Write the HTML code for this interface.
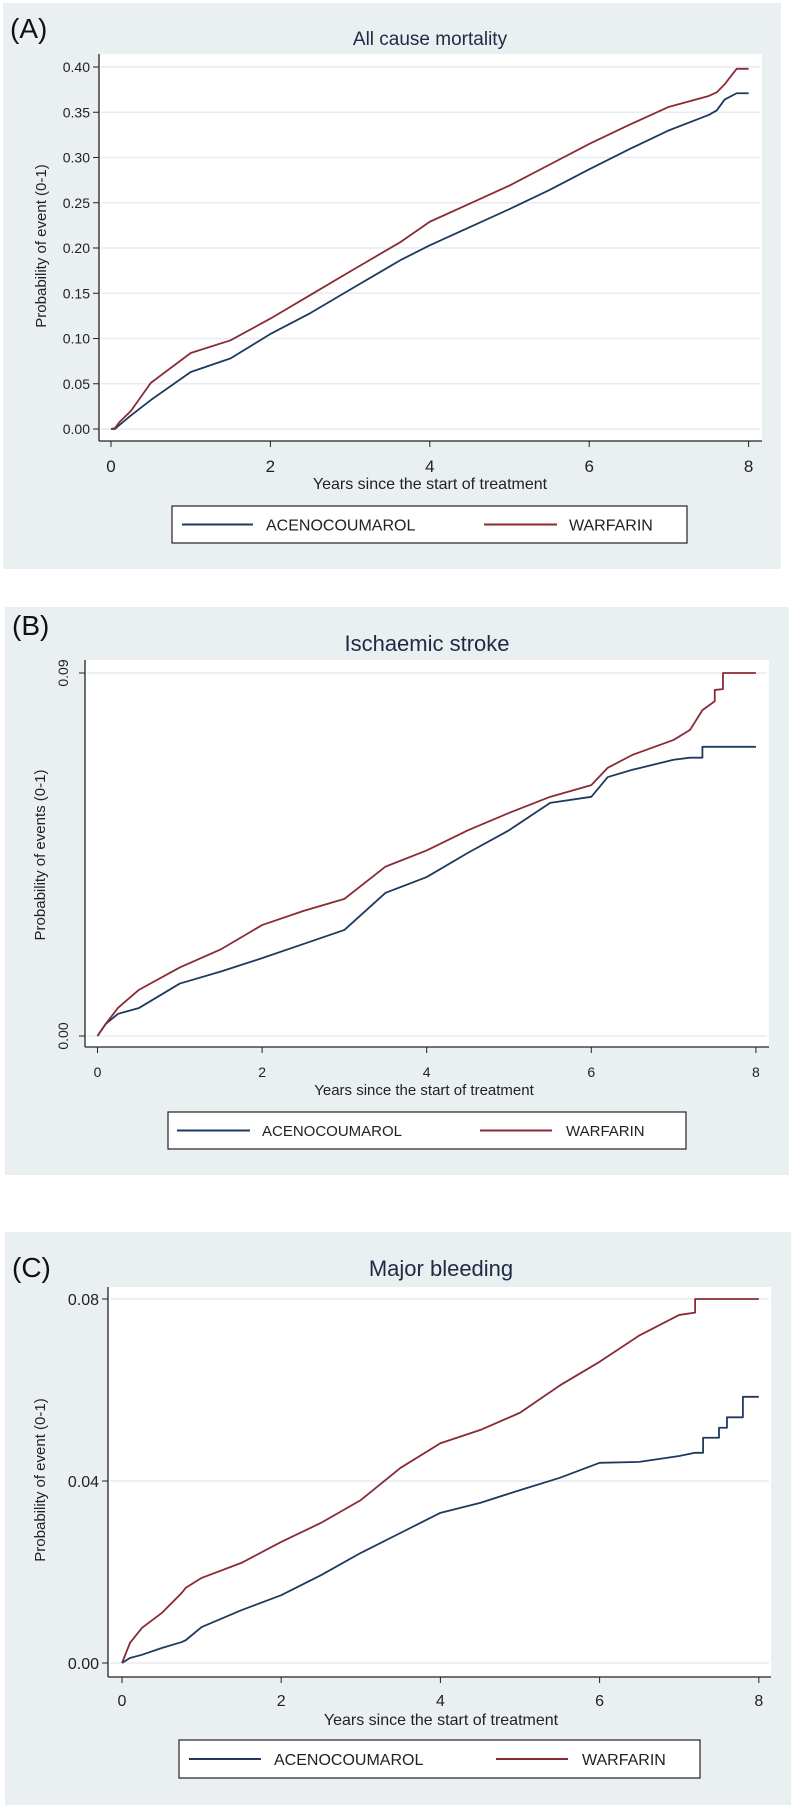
<!DOCTYPE html>
<html><head><meta charset="utf-8">
<style>
html,body{margin:0;padding:0;background:#fff;}
svg{display:block;font-family:"Liberation Sans",Arial,sans-serif;}
</style></head>
<body>
<svg id="fig" width="802" height="1811" viewBox="0 0 802 1811"></svg>
<script>
// ---------- data ----------
const aTimes = [0,0.05,0.1,0.25,0.5,1,1.5,2,2.5,3,3.64,4,4.5,5,5.5,6,6.5,7,7.5,7.6,7.7,7.85,8];
const aAcen  = [0,0,0.004,0.015,0.032,0.063,0.078,0.105,0.128,0.154,0.187,0.203,0.223,0.243,0.264,0.287,0.309,0.330,0.347,0.352,0.364,0.371,0.371];
const aWarf  = [0,0.001,0.007,0.02,0.051,0.084,0.098,0.122,0.148,0.174,0.207,0.229,0.249,0.269,0.292,0.315,0.336,0.356,0.368,0.372,0.381,0.398,0.398];

const bTimes = [0,0.1,0.25,0.5,1,1.5,2,2.5,3,3.5,4,4.5,5,5.5,6,6.2,6.5,7,7.2,7.35,7.35,7.5,7.5,7.6,7.6,8];
const bAcen  = [0,0.003,0.0055,0.0069,0.013,0.016,0.0193,0.0228,0.0263,0.0355,0.0394,0.0454,0.051,0.0578,0.0593,0.0642,0.066,0.0685,0.069,0.069,0.0717,0.0717,0.0717,0.0717,0.0717,0.0717];
const bWarf  = [0,0.003,0.007,0.0114,0.017,0.0215,0.0275,0.031,0.034,0.042,0.046,0.051,0.0553,0.0593,0.0622,0.0665,0.0697,0.0734,0.0759,0.0808,0.0808,0.083,0.0858,0.086,0.09,0.09];

const cTimes = [0,0.1,0.25,0.5,0.75,0.8,1,1.5,2,2.5,3,3.5,4,4.5,5,5.5,6,6.5,7,7.2,7.2,7.3,7.3,7.5,7.5,7.6,7.6,7.8,7.8,8];
const cAcen  = [0,0.0011,0.0018,0.0033,0.0046,0.005,0.0079,0.0116,0.0149,0.0193,0.0242,0.0286,0.033,0.0352,0.038,0.0407,0.044,0.0442,0.0455,0.0462,0.0462,0.0462,0.0495,0.0495,0.0517,0.0517,0.054,0.054,0.0585,0.0585];
const cWarf  = [0,0.0044,0.0077,0.011,0.0154,0.0165,0.0187,0.022,0.0266,0.0308,0.0358,0.0429,0.0483,0.0512,0.055,0.061,0.0662,0.072,0.0765,0.077,0.08,0.08,0.08,0.08,0.08,0.08,0.08,0.08,0.08,0.08];

const xTicks = [0,2,4,6,8];
const aYTicks = [0,0.05,0.10,0.15,0.20,0.25,0.30,0.35,0.40];
const bYTicks = [0,0.09];
const cYTicks = [0,0.04,0.08];

// ---------- helpers ----------
const NS="http://www.w3.org/2000/svg";
const svg=document.getElementById('fig');
function el(tag,attrs,parent){const e=document.createElementNS(NS,tag);for(const k in attrs)e.setAttribute(k,attrs[k]);(parent||svg).appendChild(e);return e;}
function txt(s,attrs,parent){const e=el('text',attrs,parent);e.textContent=s;return e;}
const BLUE="#1d3a5e", RED="#8a2a36", BG="#eaeff2", INK="#1f2a44";

function panel(cfg){
  const g=el('g',{});
  
  
  const bg=el('rect',{x:cfg.bg[0],y:cfg.bg[1],width:cfg.bg[2]-cfg.bg[0],height:cfg.bg[3]-cfg.bg[1],fill:BG},g);
  
  
  const pl=txt(cfg.letter,{x:cfg.bg[0]+7,y:cfg.letterY,'font-size':28,fill:'#111'},g);
  
  
  const ti=txt(cfg.title,{x:cfg.titleX,y:cfg.titleY,'font-size':cfg.titleSize,fill:INK,'text-anchor':'middle'},g);
  
  
  const p=cfg.plot;
  const area=el('rect',{x:p[0],y:p[1],width:p[2]-p[0],height:p[3]-p[1],fill:'#fff'},g);
  
  
  const X=t=>cfg.x0+t*cfg.xs;
  const Y=v=>cfg.y0-(v/cfg.ymax)*(cfg.y0-cfg.yTop);
  cfg.yTicks.forEach(v=>{
    const gl=el('line',{x1:p[0]+2,x2:p[2]-2,y1:Y(v),y2:Y(v),stroke:'#e6ecef','stroke-width':1.5},g);
    
    
    el('line',{x1:p[0]-6,x2:p[0],y1:Y(v),y2:Y(v),stroke:'#222','stroke-width':1},g);
    let lab;
    if(cfg.rotY){
      lab=txt(v.toFixed(2),{x:0,y:0,'font-size':cfg.yFont,fill:'#222','text-anchor':'middle',transform:`translate(${p[0]-17},${Y(v)}) rotate(-90)`},g);
    } else {
      lab=txt(v.toFixed(2),{x:p[0]-9,y:Y(v)+cfg.yFont*0.36,'font-size':cfg.yFont,fill:'#222','text-anchor':'end'},g);
    }
    
    
  });
  el('line',{x1:p[0],x2:p[0],y1:p[1],y2:p[3],stroke:'#222','stroke-width':1.3},g);
  el('line',{x1:p[0],x2:p[2],y1:p[3],y2:p[3],stroke:'#222','stroke-width':1.3},g);
  xTicks.forEach(t=>{
    el('line',{x1:X(t),x2:X(t),y1:p[3],y2:p[3]+6,stroke:'#222','stroke-width':1},g);
    const l=txt(String(t),{x:X(t),y:cfg.xLabY,'font-size':cfg.xFont,fill:'#222','text-anchor':'middle'},g);
    
    
  });
  const xt=txt(cfg.xTitle,{x:cfg.xTitleX,y:cfg.xTitleY,'font-size':cfg.xTitleSize,fill:'#222','text-anchor':'middle'},g);
  
  
  const yt=txt(cfg.yTitle,{x:0,y:0,'font-size':cfg.yTitleSize,fill:'#222','text-anchor':'middle',transform:`translate(${cfg.yTitleX},${cfg.yTitleY}) rotate(-90)`},g);
  
  
  function path(times,vals,color,name){
    let d=`M${X(times[0])},${Y(vals[0])}`;
    for(let i=1;i<times.length;i++){ d+=` L${X(times[i])},${Y(vals[i])}`; }
    const e=el('path',{d:d,fill:'none',stroke:color,'stroke-width':1.8,'stroke-linejoin':'round'},g);
    
    
  }
  path(cfg.times,cfg.acen,BLUE,'acenocoumarol-line');
  path(cfg.times,cfg.warf,RED,'warfarin-line');
  const L=cfg.leg;
  const lg=el('g',{},g);
  
  
  el('rect',{x:L.x0,y:L.y0,width:L.x1-L.x0,height:L.y1-L.y0,fill:'#fff',stroke:'#222','stroke-width':1.2},lg);
  const my=(L.y0+L.y1)/2;
  const e1=el('line',{x1:L.l1[0],x2:L.l1[1],y1:my,y2:my,stroke:BLUE,'stroke-width':2},lg);
  
  
  const t1=txt('ACENOCOUMAROL',{x:L.t1,y:my+L.fs*0.36,'font-size':L.fs,fill:'#222'},lg);
  
  
  const e2=el('line',{x1:L.l2[0],x2:L.l2[1],y1:my,y2:my,stroke:RED,'stroke-width':2},lg);
  
  
  const t2=txt('WARFARIN',{x:L.t2,y:my+L.fs*0.36,'font-size':L.fs,fill:'#222'},lg);
  
  
}

panel({name:'panel-a-all-cause-mortality',letter:'(A)',letterY:38,bg:[3,3,781,569],
  title:'All cause mortality',titleX:430,titleY:45,titleSize:19,
  plot:[99,54,762,441],x0:111,xs:79.7,y0:429,yTop:67,ymax:0.40,yTicks:aYTicks,yFont:14,rotY:false,
  xLabY:472,xFont:17,xTitle:'Years since the start of  treatment',xTitleX:430,xTitleY:489,xTitleSize:16,
  yTitle:'Probability of event (0-1)',yTitleX:46,yTitleY:246,yTitleSize:15,
  times:aTimes,acen:aAcen,warf:aWarf,
  leg:{x0:172,y0:506,x1:687,y1:543,l1:[182,253],t1:266,l2:[484,557],t2:569,fs:16}});

panel({name:'panel-b-ischaemic-stroke',letter:'(B)',letterY:635,bg:[5,607,789,1175],
  title:'Ischaemic stroke',titleX:427,titleY:651,titleSize:22,
  plot:[85,660,769,1047],x0:97.5,xs:82.3,y0:1036,yTop:673,ymax:0.09,yTicks:bYTicks,yFont:14,rotY:true,
  xLabY:1077,xFont:14,xTitle:'Years since the start of treatment',xTitleX:424,xTitleY:1095,xTitleSize:15,
  yTitle:'Probability of events (0-1)',yTitleX:45,yTitleY:855,yTitleSize:15,
  times:bTimes,acen:bAcen,warf:bWarf,
  leg:{x0:168,y0:1112,x1:686,y1:1149,l1:[177,250],t1:262,l2:[480,552],t2:566,fs:15}});

panel({name:'panel-c-major-bleeding',letter:'(C)',letterY:1277,bg:[5,1232,791,1805],
  title:'Major bleeding',titleX:441,titleY:1276,titleSize:22,
  plot:[108,1287,771,1677],x0:122,xs:79.6,y0:1663,yTop:1299,ymax:0.08,yTicks:cYTicks,yFont:16,rotY:false,
  xLabY:1706,xFont:16,xTitle:'Years since the start of treatment',xTitleX:441,xTitleY:1725,xTitleSize:16,
  yTitle:'Probability of event (0-1)',yTitleX:45,yTitleY:1480,yTitleSize:15,
  times:cTimes,acen:cAcen,warf:cWarf,
  leg:{x0:179,y0:1740,x1:700,y1:1778,l1:[189,261],t1:274,l2:[496,568],t2:582,fs:16}});
</script>
</body></html>
